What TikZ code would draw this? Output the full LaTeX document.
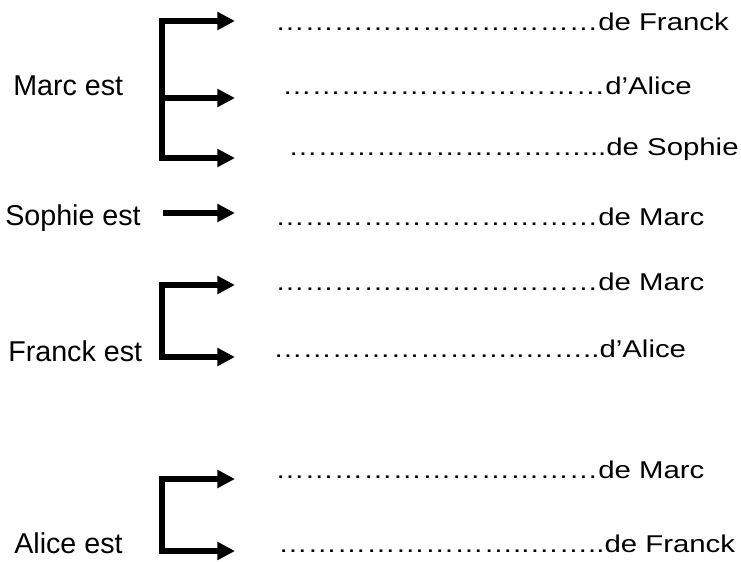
\documentclass[tikz,border=0pt]{standalone}
\usepackage{fontspec}
\usepackage{graphicx}
\setmainfont{Liberation Sans}
\usetikzlibrary{arrows.meta}
\tikzset{
  lbl/.style={anchor=base west, inner sep=0pt, font=\fontsize{21.5pt}{24pt}\selectfont},
  ans/.style={anchor=base west, inner sep=0pt, font=\fontsize{18.2pt}{20pt}\selectfont},
  arr/.style={line width=4.1pt, line join=miter, -{Triangle[length=13.3pt,width=13pt]}},
  arrb/.style={line width=4.1pt, line join=miter, {Triangle[length=13.3pt,width=13pt]}-{Triangle[length=13.3pt,width=13pt]}}
}
\newcommand{\wide}[1]{\scalebox{1.21}[1]{#1}}
\newcommand{\E}{…}
\newcommand{\Eten}{\E\E\E\E\E\E\E\E\E\E}
\begin{document}
\begin{tikzpicture}[x=0.75pt,y=-0.75pt]
\useasboundingbox (0,0) rectangle (741,561);
% left labels
\node[lbl] (marc) at (13,95) {Marc est};
\node[lbl] (sophie) at (5,225) {Sophie est};
\node[lbl] (franck) at (8,361) {Franck est};
\node[lbl] (alice) at (14,553) {Alice est};
% right texts
\node[ans] (r1) at (275,30) {\wide{\Eten\E de Franck}};
\node[ans] (r2) at (282,94) {\wide{\Eten\E d’Alice}};
\node[ans] (r3) at (288,155) {\wide{\Eten...de Sophie}};
\node[ans] (r4) at (275,225) {\wide{\Eten\E de Marc}};
\node[ans] (r5) at (275,290) {\wide{\Eten\E de Marc}};
\node[ans] (r6) at (273,357) {\wide{\E\E\E\E\E\E\E\E..\E\E..d’Alice}};
\node[ans] (r7) at (275,478) {\wide{\Eten\E de Marc}};
\node[ans] (r8) at (278,552) {\wide{\E\E\E\E\E\E\E\E..\E\E..de Franck}};
% bracket coordinates
\coordinate (a1) at (162,21);  \coordinate (t1) at (235,21);
\coordinate (a2) at (162,98);  \coordinate (t2) at (235,98);
\coordinate (a3) at (162,158); \coordinate (t3) at (235,158);
\coordinate (s0) at (163,213); \coordinate (s1) at (235,213);
\coordinate (b1) at (162,285); \coordinate (u1) at (235,285);
\coordinate (b2) at (162,357); \coordinate (u2) at (235,357);
\coordinate (c1) at (162,479); \coordinate (v1) at (235,479);
\coordinate (c2) at (162,551); \coordinate (v2) at (235,551);
% arrows
\draw[arrb] (t1) -- (a1) -- (a3) -- (t3);
\draw[arr] (a2) -- (t2);
\draw[arr] (s0) -- (s1);
\draw[arrb] (u1) -- (b1) -- (b2) -- (u2);
\draw[arrb] (v1) -- (c1) -- (c2) -- (v2);
\end{tikzpicture}
\end{document}
